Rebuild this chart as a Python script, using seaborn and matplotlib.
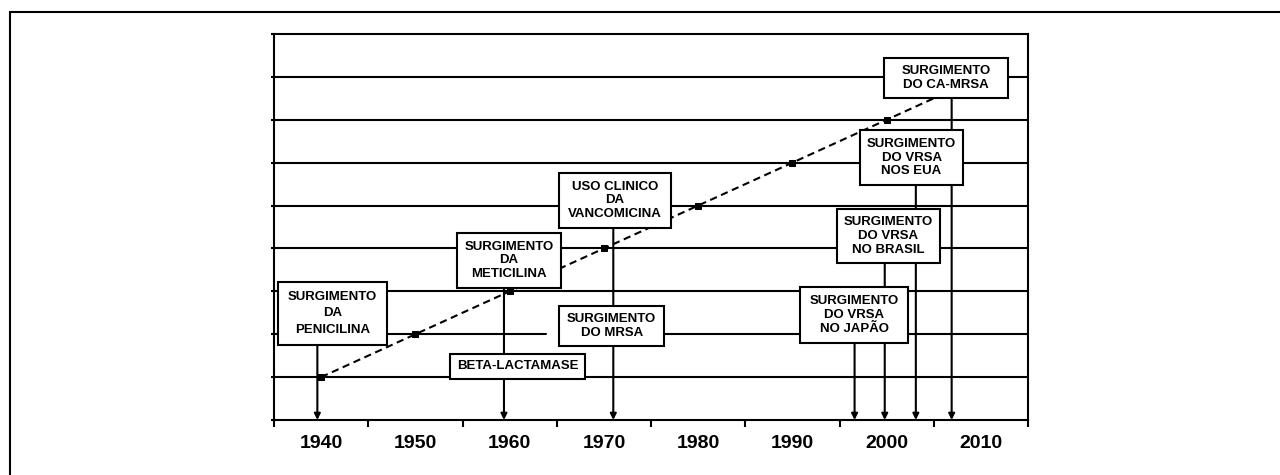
import matplotlib
matplotlib.use("Agg")
import matplotlib.pyplot as plt
from matplotlib.patches import Rectangle
import seaborn as sns
import pandas as pd

# ---------------- data ----------------
decades = [1940, 1950, 1960, 1970, 1980, 1990, 2000, 2010]
decade_labels = ["1940", "1950", "1960", "1970", "1980", "1990", "2000", "2010"]
trend_years = [1940, 1950, 1960, 1970, 1980, 1990, 2000, 2010]
trend_values = [1, 2, 3, 4, 5, 6, 7, 8]

event_texts = [
    "SURGIMENTO\nDA\nPENICILINA",
    "SURGIMENTO\nDA\nMETICILINA",
    "BETA-LACTAMASE",
    "USO CLINICO\nDA\nVANCOMICINA",
    "SURGIMENTO\nDO MRSA",
    "SURGIMENTO\nDO CA-MRSA",
    "SURGIMENTO\nDO VRSA\nNOS EUA",
    "SURGIMENTO\nDO VRSA\nNO BRASIL",
    "SURGIMENTO\nDO VRSA\nNO JAPÃO",
]
arrow_years = [1939.6, 1959.4, 1971.0, 1996.6, 1999.8, 2003.1, 2006.9]
grid_levels = [1, 2, 3, 4, 5, 6, 7, 8]

# ---------------- layout (positions / styles) ----------------
# box extents in data coordinates: (x0, x1, y0, y1)
box_extents = [
    (1935.4, 1947.0, 1.75, 3.22),
    (1954.4, 1965.45, 3.08, 4.36),
    (1953.7, 1968.0, 0.96, 1.54),
    (1965.25, 1977.1, 4.48, 5.76),
    (1965.25, 1976.4, 1.73, 2.66),
    (1999.7, 2012.9, 7.51, 8.44),
    (1997.2, 2008.1, 5.48, 6.76),
    (1994.7, 2005.65, 3.66, 4.92),
    (1990.8, 2002.3, 1.80, 3.10),
]
box_linespacing = [1.5, 1.2, 1.2, 1.2, 1.2, 1.2, 1.2, 1.2, 1.2]
arrow_tops = [1.75, 3.08, 4.48, 1.80, 3.66, 5.48, 7.51]
level2_gap = (1963.9, 1965.25)

W, H = 1280, 475
sns.set_style("white")
plt.rcParams["font.family"] = ["Liberation Sans", "DejaVu Sans"]
plt.rcParams["text.color"] = "black"
plt.rcParams["xtick.color"] = "black"
plt.rcParams["ytick.color"] = "black"
plt.rcParams["xtick.labelcolor"] = "black"

fig = plt.figure(figsize=(W / 100, H / 100), dpi=100)
ax = fig.add_axes([274 / W, 1 - 420 / H, 754 / W, 386 / H])
ax.set_xlim(1935, 2015)
ax.set_ylim(0, 9)

# outer frame (extends past right and bottom edges)
fig.patches.append(Rectangle((10 / W, -0.2), 1.5, 1 - 12 / H + 0.2,
                             transform=fig.transFigure, fill=False,
                             lw=1.5, ec="black", zorder=0))

# horizontal grid lines
for lv in grid_levels:
    if lv == 2:
        ax.plot([1935, level2_gap[0]], [lv, lv], color="black", lw=1.5, zorder=1)
        ax.plot([level2_gap[1], 2015], [lv, lv], color="black", lw=1.5, zorder=1)
    else:
        ax.axhline(lv, color="black", lw=1.5, zorder=1)

# vertical arrows to the time axis
for xa, yt in zip(arrow_years, arrow_tops):
    ax.annotate("", xy=(xa, 0), xytext=(xa, yt),
                arrowprops=dict(arrowstyle="-|>", lw=1.5, color="black",
                                mutation_scale=9, shrinkA=0, shrinkB=0),
                zorder=2)

# dashed trend line with square markers
df = pd.DataFrame({"ano": trend_years, "valor": trend_values})
sns.lineplot(data=df, x="ano", y="valor", ax=ax, color="black", lw=1.5,
             marker="s", markersize=4, markeredgecolor="black", zorder=3)
ax.lines[-1].set_dashes([3.5, 2.2])

# boxes with labels
for txt, (x0, x1, y0, y1), ls in zip(event_texts, box_extents, box_linespacing):
    ax.add_patch(Rectangle((x0, y0), x1 - x0, y1 - y0, facecolor="white",
                           edgecolor="black", lw=1.5, zorder=5))
    ax.text((x0 + x1) / 2, (y0 + y1) / 2, txt, ha="center", va="center",
            fontsize=9.5, fontweight="bold", linespacing=ls, color="black",
            zorder=6)

# axes styling
for s in ax.spines.values():
    s.set_linewidth(1.5)
    s.set_color("black")
ax.set_xticks([1935 + 10 * i for i in range(9)])
ax.set_xticklabels([])
ax.tick_params(axis="x", which="major", direction="out", length=5, width=1.5,
               color="black", bottom=True)
ax.set_xticks(decades, minor=True)
ax.set_xticklabels(decade_labels, minor=True)
ax.tick_params(axis="x", which="minor", length=0, pad=11, labelsize=14,
               labelcolor="black")
for lab in ax.get_xticklabels(minor=True):
    lab.set_fontweight("bold")
ax.set_yticks(range(0, 10))
ax.set_yticklabels([])
ax.tick_params(axis="y", direction="out", length=2, width=1.5, left=True)
ax.set_xlabel("")
ax.set_ylabel("")
ax.grid(False)

fig.savefig("out.png", dpi=100)
